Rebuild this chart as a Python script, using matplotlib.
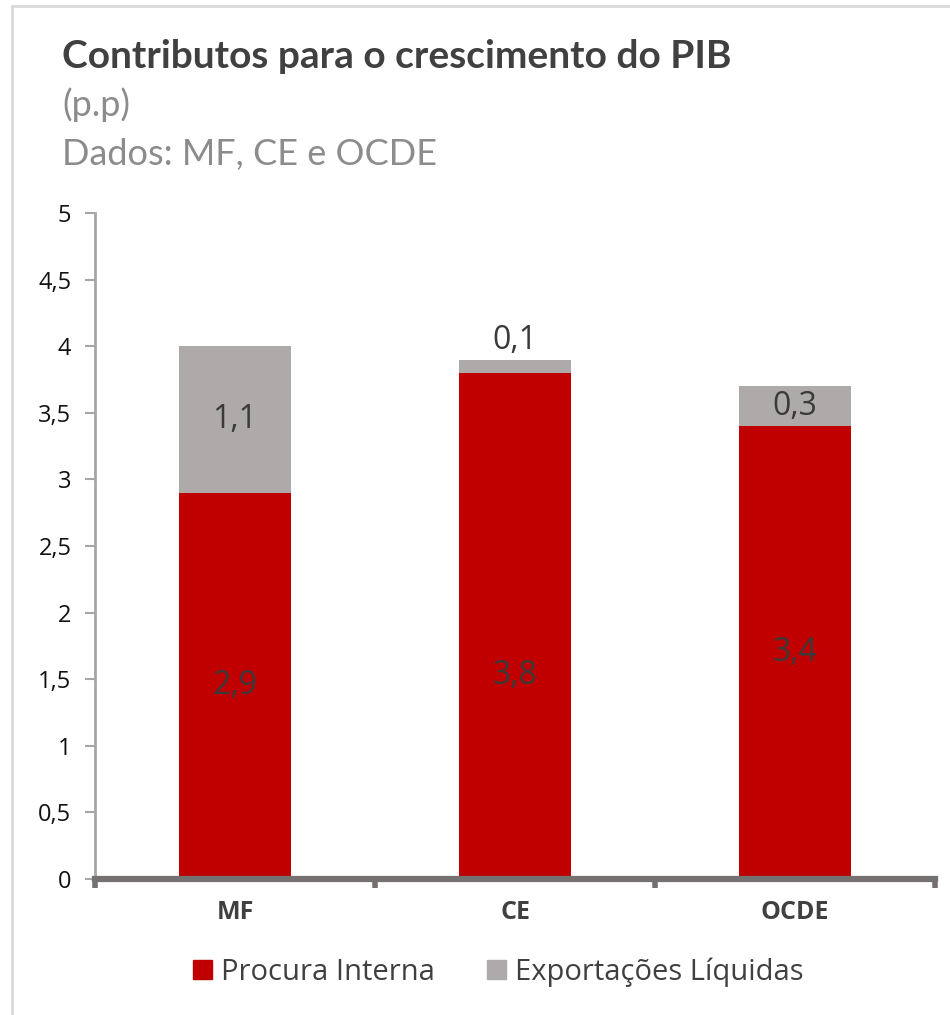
import matplotlib
matplotlib.use("Agg")
import matplotlib.pyplot as plt
from matplotlib.patches import Rectangle
from matplotlib.lines import Line2D

categories = ["MF", "CE", "OCDE"]
procura_interna = [2.9, 3.8, 3.4]
exportacoes_liquidas = [1.1, 0.1, 0.3]
series_names = ["Procura Interna", "Exportações Líquidas"]
yticks = [0, 0.5, 1, 1.5, 2, 2.5, 3, 3.5, 4, 4.5, 5]

RED = "#C00000"
GRAY = "#AEAAAA"
DARK = "#404040"

fig = plt.figure(figsize=(9.5, 10.15), dpi=100)
# frame border
fig.add_artist(Line2D([12/950, 12/950], [0, 1 - 6/1015], transform=fig.transFigure, color="#D9D9D9", lw=2))
fig.add_artist(Line2D([12/950, 1], [1 - 6/1015, 1 - 6/1015], transform=fig.transFigure, color="#D9D9D9", lw=2))

ax = fig.add_axes([95/950, 1 - 879/1015, 840/950, (879 - 213)/1015])
x = list(range(len(categories)))
ax.bar(x, procura_interna, width=0.4, color=RED, label=series_names[0], zorder=2)
ax.bar(x, exportacoes_liquidas, width=0.4, bottom=procura_interna, color=GRAY, label=series_names[1], zorder=2)

ax.set_xlim(-0.5, 2.5)
ax.set_ylim(0, 5)
ax.set_yticks(yticks)
ax.set_yticklabels([("%g" % v).replace(".", ",") for v in yticks], fontsize=17, color="#111111", family="Open Sans")
ax.set_xticks(x)
ax.set_xticklabels(categories, fontsize=18, fontweight="bold", color=DARK, family="Open Sans")
ax.tick_params(axis="x", length=0, pad=15)
ax.tick_params(axis="y", length=7, width=1.5, color="#A6A6A6", pad=10)
for s in ["top", "right"]:
    ax.spines[s].set_visible(False)
ax.spines["left"].set_color("#A6A6A6")
ax.spines["left"].set_linewidth(2)
ax.spines["bottom"].set_color("#767171")
ax.spines["bottom"].set_linewidth(4.5)
ax.spines["bottom"].set_zorder(3)
# boundary ticks on x axis
for b in [-0.5, 0.5, 1.5, 2.5]:
    ax.plot([b, b], [0, -0.07], color="#767171", lw=4, clip_on=False, zorder=3, solid_capstyle="butt")

# data labels
red_label_y = [v / 2 for v in procura_interna]
red_label_y[1] = 1.53
gray_label_y = [p + e / 2 for p, e in zip(procura_interna, exportacoes_liquidas)]
gray_label_y[1] = procura_interna[1] + exportacoes_liquidas[1] + 0.14
for i in x:
    ax.text(i, red_label_y[i], ("%.1f" % procura_interna[i]).replace(".", ","), ha="center", va="center",
            fontsize=23, color="#3a3a3a", family="Open Sans", zorder=4)
    ax.text(i, gray_label_y[i], ("%.1f" % exportacoes_liquidas[i]).replace(".", ","), ha="center", va="center",
            fontsize=23, color="#3a3a3a", family="Open Sans", zorder=4)

# titles
fig.text(62/950, 1 - 57/1015, "Contributos para o crescimento do PIB", fontsize=28, fontweight="bold",
         color=DARK, family="Lato", va="center")
fig.text(62/950, 1 - 105/1015, "(p.p)", fontsize=26, color="#8C8C8C", family="Lato", va="center")
fig.text(62/950, 1 - 155/1015, "Dados: MF, CE e OCDE", fontsize=26, color="#8C8C8C", family="Lato", va="center")

# legend
handles = [Rectangle((0, 0), 1, 1, color=RED), Rectangle((0, 0), 1, 1, color=GRAY)]
fig.legend(handles, series_names, loc="center", bbox_to_anchor=(498/950, 1 - 972/1015), ncol=2,
           frameon=False, prop={"family": "Open Sans", "size": 21}, labelcolor=DARK,
           handlelength=0.65, handleheight=0.65, handletextpad=0.3, columnspacing=1.8)

fig.savefig("out.png", dpi=100)
